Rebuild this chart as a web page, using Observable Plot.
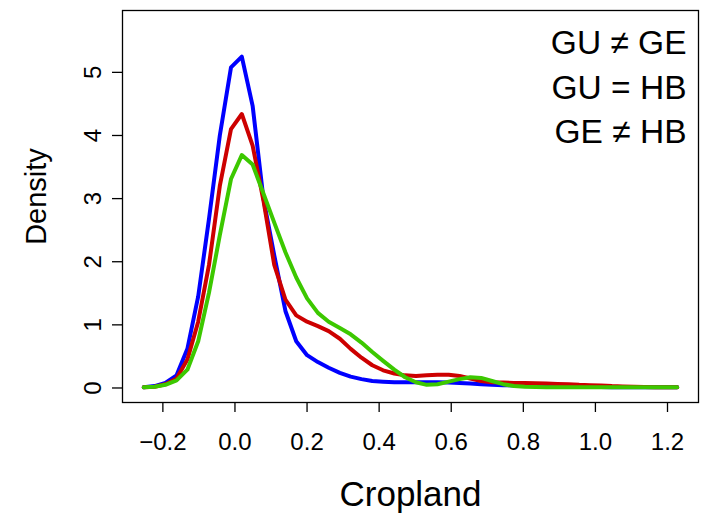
<!DOCTYPE html>
<html>
<head>
<meta charset="utf-8">
<script src="https://cdn.jsdelivr.net/npm/d3@7"></script>
<script src="https://cdn.jsdelivr.net/npm/@observablehq/plot@0.6"></script>
<style>
  html, body { margin: 0; padding: 0; background: #fff; color: #000; }
  #chart svg { display: block; }
</style>
</head>
<body>
<div id="chart"></div>
<script>
// Evaluation grid of the density estimates (Cropland)
const cropland = [
  -0.253, -0.223, -0.193, -0.162, -0.132, -0.102, -0.072, -0.042, -0.011, 0.019,
   0.049,  0.079,  0.109,  0.140,  0.170,  0.200,  0.230,  0.260,  0.291, 0.321,
   0.351,  0.381,  0.411,  0.442,  0.472,  0.502,  0.532,  0.562,  0.593, 0.623,
   0.653,  0.683,  0.713,  0.744,  0.774,  0.804,  0.834,  0.864,  0.895, 0.925,
   0.955,  0.985,  1.015,  1.046,  1.076,  1.106,  1.136,  1.166,  1.196, 1.227
];

// Blue density curve
const densityBlue = [
  0.01, 0.03, 0.08, 0.20, 0.62, 1.45, 2.68, 4.00, 5.08, 5.25,
  4.47, 3.00, 2.10, 1.22, 0.74, 0.52, 0.41, 0.32, 0.24, 0.18,
  0.14, 0.11, 0.10, 0.09, 0.09, 0.09, 0.09, 0.09, 0.085, 0.08,
  0.07, 0.06, 0.05, 0.045, 0.04, 0.035, 0.03, 0.028, 0.025, 0.022,
  0.02, 0.018, 0.015, 0.013, 0.012, 0.01, 0.01, 0.01, 0.01, 0.01
];

// Red density curve
const densityRed = [
  0.01, 0.02, 0.06, 0.15, 0.45, 1.05, 1.95, 3.20, 4.10, 4.34,
  3.84, 2.97, 1.95, 1.40, 1.15, 1.05, 0.98, 0.90, 0.78, 0.62,
  0.48, 0.36, 0.28, 0.23, 0.20, 0.19, 0.20, 0.21, 0.21, 0.19,
  0.15, 0.11, 0.09, 0.085, 0.08, 0.08, 0.075, 0.07, 0.065, 0.06,
  0.05, 0.045, 0.04, 0.03, 0.025, 0.02, 0.015, 0.01, 0.01, 0.01
];

// Green density curve
const densityGreen = [
  0.01, 0.02, 0.05, 0.12, 0.29, 0.74, 1.51, 2.42, 3.31, 3.69,
  3.54, 3.08, 2.62, 2.15, 1.75, 1.42, 1.19, 1.05, 0.95, 0.85,
  0.72, 0.57, 0.43, 0.29, 0.17, 0.09, 0.05, 0.06, 0.10, 0.14,
  0.17, 0.16, 0.11, 0.06, 0.03, 0.02, 0.015, 0.012, 0.01, 0.01,
  0.01, 0.01, 0.01, 0.01, 0.01, 0.01, 0.01, 0.01, 0.01, 0.01
];

const xTicks = [-0.2, 0, 0.2, 0.4, 0.6, 0.8, 1.0, 1.2];
const xTickLabels = ["\u22120.2", "0.0", "0.2", "0.4", "0.6", "0.8", "1.0", "1.2"];
const yTicks = [0, 1, 2, 3, 4, 5];
const yTickLabels = ["0", "1", "2", "3", "4", "5"];
const annotationLines = ["GU \u2260 GE", "GU = HB", "GE \u2260 HB"];
const xLabel = "Cropland";
const yLabel = "Density";

const pts = ys => cropland.map((x, i) => ({x, y: ys[i]}));

const lineStyle = {x: "x", y: "y", strokeWidth: 4, strokeLinejoin: "round", strokeLinecap: "round"};

const chart = Plot.plot({
  width: 701,
  height: 519,
  marginLeft: 122,
  marginRight: 3,
  marginTop: 10,
  marginBottom: 117,
  style: {fontFamily: "'Liberation Sans', Arial, Helvetica, sans-serif", background: "#fff", color: "#000"},
  x: {domain: [-0.312, 1.286]},
  y: {domain: [-0.23, 5.98]},
  marks: [
    Plot.line(pts(densityBlue), {...lineStyle, stroke: "#0000ff"}),
    Plot.line(pts(densityRed), {...lineStyle, stroke: "#cd0000"}),
    Plot.line(pts(densityGreen), {...lineStyle, stroke: "#3cc800"}),
    Plot.frame({stroke: "#000", strokeWidth: 1.3}),
    Plot.axisX({
      ticks: xTicks, tickSize: 10, tickPadding: 20.5, fontSize: 24,
      tickFormat: d => xTickLabels[xTicks.indexOf(d)],
      strokeWidth: 1.3, label: null
    }),
    // y tick marks only
    Plot.axisY({
      ticks: yTicks, tickSize: 10, fill: "none",
      stroke: "#000", strokeWidth: 1.3, label: null
    }),
    // y tick labels, rotated as in the reference
    Plot.text(yTicks, {
      y: d => d, frameAnchor: "left", dx: -29,
      text: (d, i) => yTickLabels[i],
      rotate: -90, textAnchor: "middle", lineAnchor: "middle",
      fontSize: 24, fill: "#000"
    }),
    Plot.text([xLabel], {frameAnchor: "bottom", dy: 92, textAnchor: "middle", lineAnchor: "middle", fontSize: 35, fill: "#000"}),
    Plot.text([yLabel], {frameAnchor: "left", dx: -86, dy: -10, rotate: -90, textAnchor: "middle", lineAnchor: "middle", fontSize: 29, fill: "#000"}),
    Plot.text([annotationLines.join("\n")], {
      frameAnchor: "top-right", textAnchor: "end", lineAnchor: "top",
      lineHeight: 1.33, dx: -12, dy: 12, fontSize: 33.5, fill: "#000"
    })
  ]
});

document.getElementById("chart").appendChild(chart);
</script>
</body>
</html>
